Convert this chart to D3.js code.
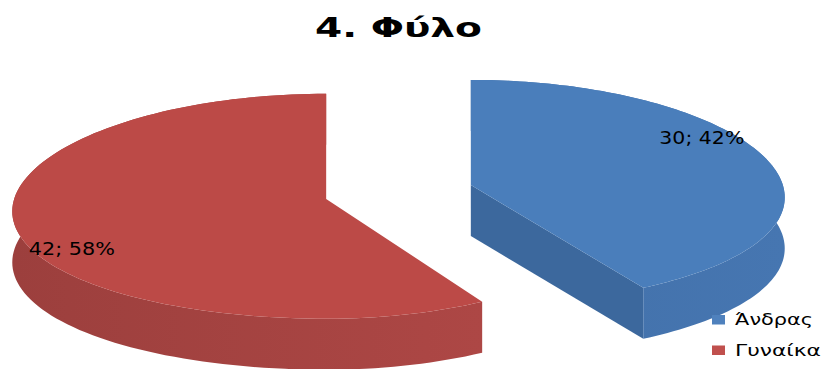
<!DOCTYPE html>
<html><head><meta charset="utf-8">
<script src="https://cdn.jsdelivr.net/npm/d3@7"></script>
<style>body{margin:0;background:#fff;} svg{display:block;}</style>
</head><body>
<script>
// ---- data ----
const categories = ["Άνδρας", "Γυναίκα"];
const values = [30, 42];
const title = "4. Φύλο";
const topColors  = ["#4A7EBB", "#BC4A47"];
const sideColors = [["#4270A9", "#4676B1"], ["#9C3F3D", "#AD4745"]];
const cutColors  = ["#3C689D", "#A04140"];
const legendColors = ["#4F81BD", "#C0504D"];

// ---- layout ----
const W = 822, H = 369;
const base = {x: 398.5, y: 192};
const A = 312, B = 112, ky = 0.065, kxs = 0.11, depth = 51, explode = 0.24;

const svg = d3.select("body").append("svg").attr("width", W).attr("height", H);
const defs = svg.append("defs");

const total = d3.sum(values);
const arcs = d3.pie().sort(null).value(d => d)(values);
const line = d3.line();

function geom(a) {
  const mid = (a.startAngle + a.endAngle) / 2;
  const sm = Math.sin(mid);
  const cx = base.x + A * Math.sin(mid) * explode;
  const cy = base.y + B * (-Math.cos(mid)) * explode;
  const rim = (t, r = 1) => {
    const u = Math.sin(t) * r, v = -Math.cos(t) * r;
    const kx = (u * sm > 0) ? kxs : 0;
    return [cx + A * u / (1 - kx * v), cy + B * v / (1 - ky * v)];
  };
  return {cx, cy, rim, mid};
}

arcs.forEach((a, i) => {
  const g = geom(a);
  const n = 120;
  const ts = d3.range(n + 1).map(j => a.startAngle + (a.endAngle - a.startAngle) * j / n);
  const topRim = ts.map(t => g.rim(t));
  const botRim = topRim.map(p => [p[0], p[1] + depth]).reverse();
  const grp = svg.append("g");

  // cut faces
  const cut = (t) => {
    const p = g.rim(t);
    return [[g.cx, g.cy], p, [p[0], p[1] + depth], [g.cx, g.cy + depth]];
  };
  if (Math.sin(a.endAngle) > 1e-6)
    grp.append("path").attr("d", line(cut(a.endAngle)) + "Z").attr("fill", cutColors[i]);
  if (-Math.sin(a.startAngle) > 1e-6)
    grp.append("path").attr("d", line(cut(a.startAngle)) + "Z").attr("fill", cutColors[i]);

  // outer side with gradient
  const xs = topRim.map(p => p[0]);
  const gid = "side" + i;
  const lg = defs.append("linearGradient").attr("id", gid)
    .attr("gradientUnits", "userSpaceOnUse")
    .attr("x1", d3.min(xs)).attr("x2", d3.max(xs)).attr("y1", 0).attr("y2", 0);
  lg.append("stop").attr("offset", 0).attr("stop-color", sideColors[i][0]);
  lg.append("stop").attr("offset", 1).attr("stop-color", sideColors[i][1]);
  grp.append("path").attr("d", line(topRim.concat(botRim)) + "Z").attr("fill", `url(#${gid})`);

  // top face
  grp.append("path").attr("d", line([[g.cx, g.cy]].concat(topRim)) + "Z").attr("fill", topColors[i]);
});

// data labels
const labelLen = [85, 86];
arcs.forEach((a, i) => {
  const g = geom(a);
  const p = g.rim(g.mid - 0.25, 0.89);
  const pct = Math.round(values[i] / total * 100);
  svg.append("text").attr("x", p[0]).attr("y", p[1]).attr("dy", "0.36em")
    .attr("text-anchor", "middle")
    .attr("font-family", "DejaVu Sans").attr("font-size", 17.5).attr("fill", "#000")
    .attr("textLength", labelLen[i]).attr("lengthAdjust", "spacingAndGlyphs")
    .text(`${values[i]}; ${pct}%`);
});

// title
svg.append("text").attr("x", 398.5).attr("y", 37).attr("text-anchor", "middle")
  .attr("font-family", "DejaVu Sans").attr("font-weight", "bold").attr("font-size", 27)
  .attr("textLength", 167).attr("lengthAdjust", "spacingAndGlyphs")
  .text(title);

// legend
const legY = d3.scalePoint().domain(categories).range([320, 350.5]);
const legLen = [78, 86];
const leg = svg.append("g");
categories.forEach((c, i) => {
  leg.append("rect").attr("x", 712).attr("y", legY(c) - 5).attr("width", 13).attr("height", 9.5)
    .attr("fill", legendColors[i]);
  leg.append("text").attr("x", 735).attr("y", legY(c) + 5)
    .attr("font-family", "DejaVu Sans").attr("font-size", 16.5).attr("fill", "#000")
    .attr("textLength", legLen[i]).attr("lengthAdjust", "spacingAndGlyphs")
    .text(c);
});
</script>
</body></html>
